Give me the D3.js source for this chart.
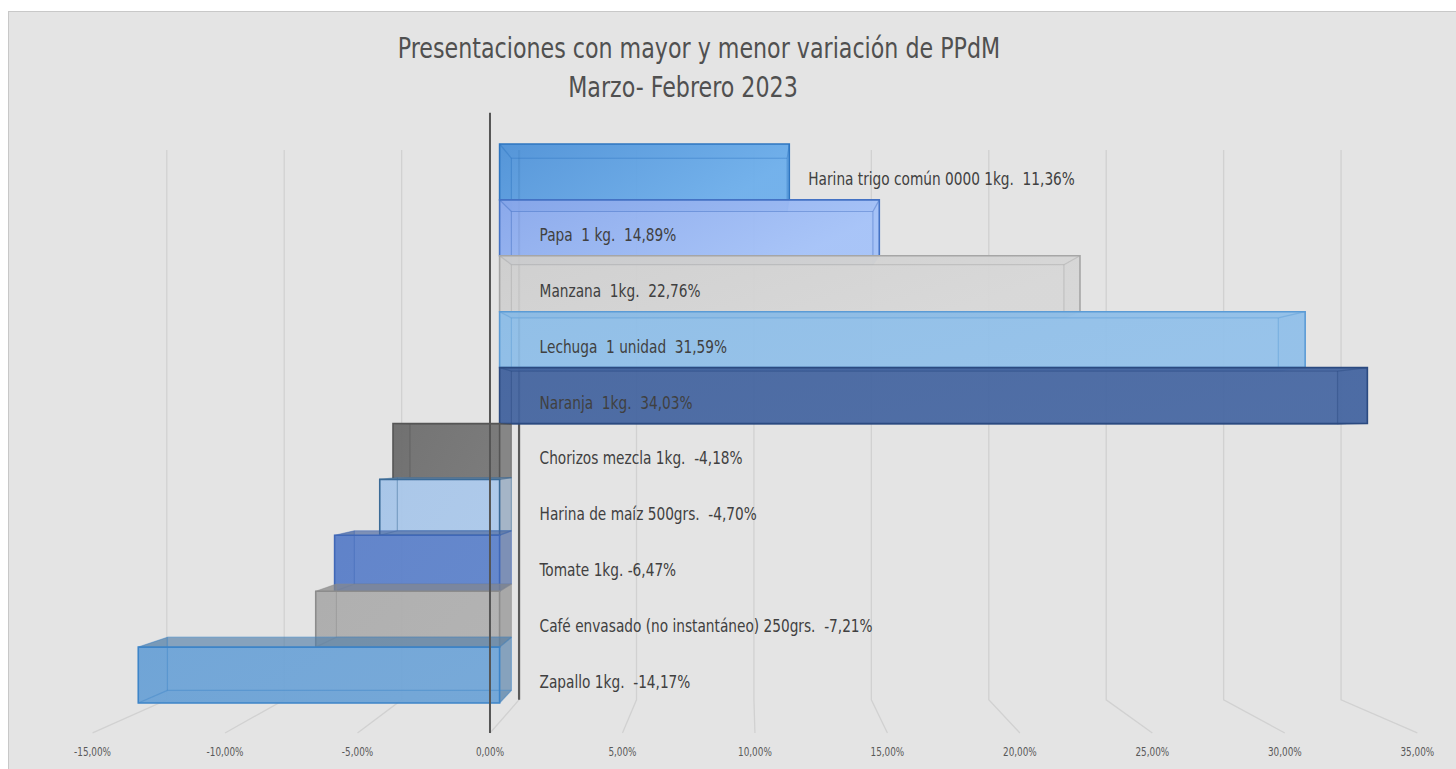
<!DOCTYPE html>
<html>
<head>
<meta charset="utf-8">
<script src="https://cdn.jsdelivr.net/npm/d3@7"></script>
<style>
  body { margin: 0; background: #fff; }
  text { font-family: "Liberation Sans Narrow", "Arial Narrow", "DejaVu Sans Condensed", sans-serif; }
</style>
</head>
<body>
<div id="chart"></div>
<script>
// datos
const categories = ["Harina trigo común 0000 1kg.", "Papa  1 kg.", "Manzana  1kg.", "Lechuga  1 unidad",
    "Naranja  1kg.", "Chorizos mezcla 1kg.", "Harina de maíz 500grs.", "Tomate 1kg.",
    "Café envasado (no instantáneo) 250grs.", "Zapallo 1kg."];
const values = [11.36, 14.89, 22.76, 31.59, 34.03, -4.18, -4.70, -6.47, -7.21, -14.17];
const tickValues = [-15, -10, -5, 0, 5, 10, 15, 20, 25, 30, 35];
const fills = ["#4f93da", "#88a8ee", "#d0d0d0", "#8dbee9", "#42639f", "#6c6c6c", "#a8c7eb", "#5a7fca", "#adadad", "#6ba3d8"];
const fillsLight = ["#6db0ee", "#a6c4fb", "#d9d9d9", "#93c2ec", "#4667a3", "#747474", "#abc9ec", "#5c82cc", "#b0b0b0", "#70a6d9"];
const strokes = ["#2e75c0", "#4472c4", "#a6a6a6", "#5b9bd5", "#2b4a80", "#555555", "#3a6a96", "#4068b8", "#8c8c8c", "#3d84c8"];
const title = ["Presentaciones con mayor y menor variación de PPdM", "Marzo- Febrero 2023"];

const W = 1456, H = 769;
const fmt = v => d3.format(".2f")(v).replace(".", ",").replace("−", "-") + "%";

// comprime el texto horizontalmente (fuente angosta)
function narrow(t, f) {
    const w = t.node().getComputedTextLength();
    t.attr("textLength", w * f).attr("lengthAdjust", "spacingAndGlyphs");
    return w * f;
}

const svg = d3.select("#chart").append("svg")
    .attr("width", W)
    .attr("height", H);

// fondo del área del gráfico
svg.append("rect")
    .attr("x", 8.5).attr("y", 11.5)
    .attr("width", W).attr("height", H)
    .attr("fill", "#e4e4e4")
    .attr("stroke", "#c8c8c8");

// perspectiva: punto de fuga y profundidades
const vp = [746, 441];
const kWall = 0.921, kFront = 1.039, kBack = 0.952;
const proj = (px, py, k) => [vp[0] + k * (px - vp[0]), vp[1] + k * (py - vp[1])];

const x = d3.scaleLinear().domain([-15, 35]).range([117.1, 1392.1]);
const y = d3.scaleBand().domain(categories).range([125, 722])
    .paddingInner(0).paddingOuter(0.34);
const yTop = 125, yBot = 722;

// líneas de división (pared del fondo + piso)
const grid = svg.append("g");
tickValues.forEach(t => {
    const a = proj(x(t), yTop, kWall), b = proj(x(t), yBot, kWall), c = proj(x(t), yBot, kFront);
    grid.append("path")
        .attr("d", d3.line()([a, b, c]))
        .attr("fill", "none")
        .attr("stroke", "#d1d1d1")
        .attr("stroke-width", 1.3);
});

// eje 0 del fondo
const b0 = proj(x(0), yTop, kWall), b1 = proj(x(0), yBot, kWall);
svg.append("line")
    .attr("x1", b0[0]).attr("y1", b0[1]).attr("x2", b1[0]).attr("y2", b1[1])
    .attr("stroke", "#5a5a5a").attr("stroke-width", 2.2);

// degradados
const defs = svg.append("defs");
values.forEach((v, i) => {
    const g = defs.append("linearGradient").attr("id", "grad" + i)
        .attr("x1", "0%").attr("x2", "100%").attr("y1", "0%").attr("y2", "30%");
    g.append("stop").attr("offset", "0%").attr("stop-color", fills[i]);
    g.append("stop").attr("offset", "100%").attr("stop-color", fillsLight[i]);
});

// barras 3D
const bars = svg.append("g");
const poly = pts => "M" + pts.map(p => p.join(",")).join("L") + "Z";

values.forEach((v, i) => {
    const x0 = x(Math.min(0, v)), x1 = x(Math.max(0, v));
    const y0 = y(categories[i]), y1 = y0 + y.bandwidth();
    const F = [[x0, y0], [x1, y0], [x1, y1], [x0, y1]];
    const B = F.map(p => proj(p[0], p[1], kBack));
    const dark = d3.color(fills[i]).darker(0.7).formatHex();
    const g = bars.append("g");

    // caras traseras y laterales
    g.append("path").attr("d", poly(B)).attr("fill", dark).attr("fill-opacity", 0.3);
    const sides = [[F[0], F[1], B[1], B[0]], [F[3], F[2], B[2], B[3]], [F[0], F[3], B[3], B[0]], [F[1], F[2], B[2], B[1]]];
    sides.forEach(s => {
        g.append("path").attr("d", poly(s))
            .attr("fill", dark).attr("fill-opacity", 0.5);
    });

    // cara frontal
    g.append("path").attr("d", poly(F))
        .attr("fill", "url(#grad" + i + ")")
        .attr("fill-opacity", 0.9);

    // aristas internas
    const edges = [[B[0], B[1]], [B[1], B[2]], [B[2], B[3]], [B[3], B[0]],
        [F[0], B[0]], [F[1], B[1]], [F[2], B[2]], [F[3], B[3]]];
    edges.forEach(e => {
        g.append("path").attr("d", d3.line()(e))
            .attr("stroke", strokes[i]).attr("stroke-opacity", 0.45)
            .attr("stroke-width", 1.2).attr("fill", "none");
    });
    g.append("path").attr("d", poly(F))
        .attr("fill", "none")
        .attr("stroke", strokes[i])
        .attr("stroke-width", 1.6);
});

// eje vertical frontal
const f0 = proj(x(0), yTop, kFront), f1 = proj(x(0), yBot, kFront);
svg.append("line")
    .attr("x1", f0[0]).attr("y1", f0[1]).attr("x2", f1[0]).attr("y2", f1[1])
    .attr("stroke", "#555555").attr("stroke-width", 2);

// etiquetas del eje X
svg.append("g").selectAll("text")
    .data(tickValues)
    .enter().append("text")
    .attr("x", d => proj(x(d), yBot, kFront)[0])
    .attr("y", 756)
    .attr("text-anchor", "middle")
    .attr("font-size", 12)
    .attr("fill", "#595959")
    .text(d => fmt(d))
    .each(function() { narrow(d3.select(this), 0.82); });

// etiquetas de datos
const labels = svg.append("g");
values.forEach((v, i) => {
    const t = labels.append("text")
        .style("white-space", "pre")
        .attr("font-size", 17.5)
        .attr("fill", "#404040")
        .attr("dominant-baseline", "central")
        .attr("y", y(categories[i]) + y.bandwidth() / 2 + 7)
        .text(categories[i] + (i === 7 ? " " : "  ") + fmt(v));
    const w = narrow(t, 0.87);
    // si no entra dentro de la barra, va afuera
    if (v > 0 && w + 45 > x(v) - x(0)) t.attr("x", x(v) + 19);
    else t.attr("x", x(0) + 40);
});

// título
title.forEach((s, j) => {
    const t = svg.append("text")
        .attr("x", j === 0 ? 699 : 683).attr("y", j === 0 ? 58 : 97)
        .attr("text-anchor", "middle")
        .attr("font-size", 29)
        .attr("fill", "#505050")
        .text(s);
    narrow(t, 0.85);
});
</script>
</body>
</html>
